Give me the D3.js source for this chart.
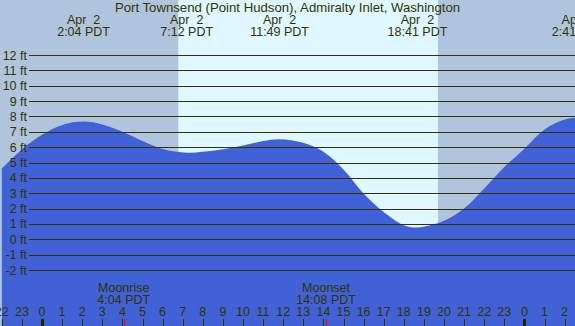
<!DOCTYPE html>
<meta charset="utf-8">
<head>
<script src="https://cdn.jsdelivr.net/npm/d3@7"></script>
<style>
  body { margin: 0; background: #fff; }
  svg { display: block; }
  text { font-family: "Liberation Sans", Arial, sans-serif; font-size: 12.5px; fill: #333300; }
</style>
</head>
<body>
<div id="tide"></div>
<script>

// tide readings (hours from midnight Apr 2, feet)
const hours   = [-2, -1, 0, 1, 2.07, 3, 4, 5, 6, 7.2, 8, 9, 10, 11, 11.82, 13, 14, 15, 16, 17, 18, 18.68, 20, 21, 22, 23, 24, 25, 26, 26.68, 27.5];
const heights = [4.6, 5.85, 6.8, 7.45, 7.67, 7.48, 7.0, 6.4, 5.88, 5.64, 5.7, 5.87, 6.1, 6.4, 6.52, 6.28, 5.7, 4.55, 2.98, 1.78, 0.92, 0.77, 1.2, 2.0, 3.3, 4.7, 5.9, 7.15, 7.8, 7.92, 7.85];

// high / low events along the top
const eventTimes = [2.07, 7.2, 11.82, 18.68, 26.68];
const eventDays  = ["Apr  2", "Apr  2", "Apr  2", "Apr  2", "Apr  3"];
const eventLabels = ["2:04 PDT", "7:12 PDT", "11:49 PDT", "18:41 PDT", "2:41 PDT"];

// daylight
const sunrise = 6.78, sunset = 19.7;

// moon
const moonTimes = [4.067, 14.133];
const moonNames = ["Moonrise", "Moonset"];
const moonLabels = ["4:04 PDT", "14:08 PDT"];

// axes
const ftTicks = d3.range(-2, 13);
const hourTicks = d3.range(-2, 27);

const W = 575, H = 326;

const x = d3.scaleLinear().domain([0, 24]).range([42, 524.4]);
const y = d3.scaleLinear().domain([-2, 12]).range([270, 55]);

const svg = d3.select("#tide").append("svg")
  .attr("width", W).attr("height", H);

// night background + day band
svg.append("rect").attr("width", W).attr("height", H).attr("fill", "#b0c4de");
svg.append("rect")
  .attr("x", x(sunrise)).attr("y", 0)
  .attr("width", x(sunset) - x(sunrise)).attr("height", H)
  .attr("fill", "#dff7fe");

// water
const area = d3.area()
  .x((d, i) => x(hours[i]))
  .y0(H)
  .y1(d => y(d))
  .curve(d3.curveCatmullRom.alpha(0.5));

svg.append("path")
  .datum(heights)
  .attr("d", area)
  .attr("fill", "#4161d6");

// grid lines
svg.selectAll(".grid")
  .data(ftTicks)
  .join("line")
    .attr("x1", 29).attr("x2", W)
    .attr("y1", d => Math.round(y(d)) + 0.5)
    .attr("y2", d => Math.round(y(d)) + 0.5)
    .attr("stroke", "#333300")
    .attr("stroke-width", 1.2);

svg.selectAll(".ftlab")
  .data(ftTicks)
  .join("text")
    .attr("x", 27)
    .attr("y", d => y(d) + 4.5)
    .attr("text-anchor", "end")
    .text(d => d + " ft");

// title
svg.append("text")
  .attr("x", 287.5).attr("y", 11.5)
  .attr("text-anchor", "middle")
  .style("font-size", "13.2px")
  .text("Port Townsend (Point Hudson), Admiralty Inlet, Washington");

// event labels
eventTimes.forEach((t, i) => {
  svg.append("text")
    .attr("x", x(t)).attr("y", 24.3)
    .attr("text-anchor", "middle")
    .style("white-space", "pre")
    .text(eventDays[i]);
  svg.append("text")
    .attr("x", x(t)).attr("y", 36)
    .attr("text-anchor", "middle")
    .text(eventLabels[i]);
});

// moon labels
moonTimes.forEach((t, i) => {
  svg.append("text")
    .attr("x", x(t)).attr("y", 291.7)
    .attr("text-anchor", "middle")
    .text(moonNames[i]);
  svg.append("text")
    .attr("x", x(t)).attr("y", 303.5)
    .attr("text-anchor", "middle")
    .text(moonLabels[i]);
});

// hour labels and ticks
svg.selectAll(".hlab")
  .data(hourTicks)
  .join("text")
    .attr("x", d => x(d))
    .attr("y", 315.8)
    .attr("text-anchor", "middle")
    .text(d => ((d % 24) + 24) % 24);

svg.selectAll(".htick")
  .data(hourTicks)
  .join("line")
    .attr("x1", d => Math.round(x(d)) + 0.5)
    .attr("x2", d => Math.round(x(d)) + 0.5)
    .attr("y1", 319).attr("y2", H)
    .attr("stroke", d => d % 24 === 0 ? "#222200" : "#333300")
    .attr("stroke-width", d => d % 24 === 0 ? 3 : 1);

svg.selectAll(".mtick")
  .data(moonTimes)
  .join("line")
    .attr("x1", d => Math.round(x(d)) + 0.5)
    .attr("x2", d => Math.round(x(d)) + 0.5)
    .attr("y1", 319).attr("y2", H)
    .attr("stroke", "#ff0000")
    .attr("stroke-width", 1);

</script>
</body>
